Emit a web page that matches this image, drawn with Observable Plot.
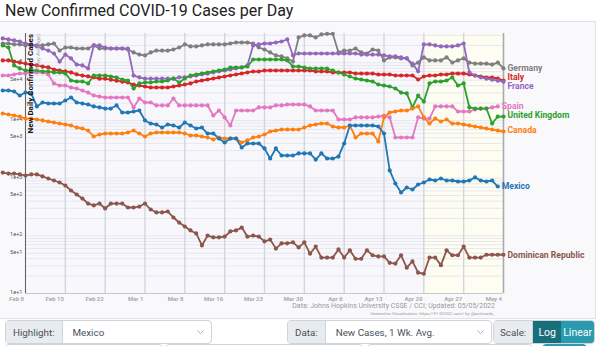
<!DOCTYPE html>
<html><head><meta charset="utf-8">
<script src="https://cdn.jsdelivr.net/npm/d3@7"></script>
<script src="https://cdn.jsdelivr.net/npm/@observablehq/plot@0.6"></script>
<style>
body{margin:0;width:600px;height:346px;overflow:hidden;background:#fff;font-family:Roboto,"Open Sans",sans-serif;position:relative}
#title{position:absolute;left:5px;top:1px;font-size:16px;color:#222;white-space:nowrap}
#panel{position:absolute;left:-1px;top:21px;width:597px;height:298px;background:#f9f9fc;border:1px solid #e0e0e6;box-sizing:border-box}
#chart{position:absolute;left:0;top:21px}
.src{position:absolute;right:105px;white-space:nowrap;color:#999;text-align:right}
.box{position:absolute;top:320px;height:24px;border:1px solid #ced4da;border-radius:4px;background:#fff;box-sizing:border-box;display:flex;align-items:center;font-size:9.8px;color:#495057;overflow:hidden}
.lab{background:#e9ecef;height:100%;display:flex;align-items:center;padding:0 7px;border-right:1px solid #ced4da;box-sizing:border-box}
.val{padding-left:10px;flex:1}
.chev{margin-right:7px}
.btn{height:100%;display:flex;align-items:center;justify-content:center;color:#fff;font-size:10.5px}
.row2{position:absolute;top:344px;height:14px;border:1px solid #ced4da;border-radius:4px;background:#fff;box-sizing:border-box}
</style></head>
<body>
<div id="title">New Confirmed COVID-19 Cases per Day</div>
<div id="panel"></div>
<div id="chart"></div>
<div class="src" style="top:302px;font-size:7px">Data: Johns Hopkins University CSSE / CCI; Updated: 05/05/2022</div>
<div class="src" style="top:311px;font-size:4.4px">Interactive Visualization: https://91-DIVOC.com/ by @profwade_</div>
<div class="box" style="left:5px;width:207px"><span class="lab">Highlight:</span><span class="val">Mexico</span><svg class="chev" width="7" height="5"><polyline points="0.5,0.5 3.5,3.5 6.5,0.5" fill="none" stroke="#999" stroke-width="0.8"/></svg></div>
<div class="box" style="left:287px;width:205px"><span class="lab">Data:</span><span class="val">New Cases, 1 Wk. Avg.</span><svg class="chev" width="7" height="5"><polyline points="0.5,0.5 3.5,3.5 6.5,0.5" fill="none" stroke="#999" stroke-width="0.8"/></svg></div>
<div class="box" style="left:493px;width:102px"><span class="lab" style="padding:0 6px">Scale:</span><span class="btn" style="background:#176f7c;width:28px">Log</span><span class="btn" style="background:#2a9aae;flex:1">Linear</span></div>
<div class="row2" style="left:5px;width:158px"></div>
<div class="row2" style="left:165px;width:198px"></div>
<div class="row2" style="left:367px;width:166px"></div>
<div class="row2" style="left:542px;width:45px;background:#2a9aae;border-color:#2a9aae"></div>
<script>
// ---- data (day index: 0 = Feb 8; series start 4 days before) ----
const countries = ["Germany","Italy","France","Spain","United Kingdom","Canada","Mexico","Dominican Republic"];
const colors = ["#7f7f7f","#d62728","#9467bd","#e377c2","#2ca02c","#ff7f0e","#1f77b4","#8c564b"];
const firstDay = -4;
const germany = [216000,216000,208000,208000,200000,200000,200000,200000,208000,216000,163000,184000,184000,177000,
 177000,177000,200000,177000,177000,177000,177000,177000,170000,151000,
 139000,134000,151000,163000,163000,163000,170000,184000,208000,192000,
 192000,200000,208000,208000,208000,208000,216000,225000,225000,225000,
 216000,184000,170000,151000,134000,129000,119000,105000,275000,298000,
 298000,275000,310000,318000,318000,151000,163000,163000,177000,151000,
 145000,170000,163000,110000,124000,124000,119000,119000,90000,101000,
 124000,110000,110000,110000,124000,101000,110000,119000,101000,97000,
 97000,97000,93000,101000,80000];
const italy = [110000,110000,105000,101000,97000,93000,90000,86000,83000,76500,73500,71000,68000,63000,
 60000,58000,56000,53000,53000,51000,49000,47000,45500,42000,
 40400,38800,37300,37300,37300,37300,38800,40400,42000,43800,
 47400,49300,51300,53400,55600,57900,60200,62700,65200,67900,
 70700,70700,73500,73500,73500,73500,73500,73500,73500,73500,
 73500,70700,70700,70700,67900,67900,67900,67900,65200,65200,
 65200,65200,62700,62700,62700,60200,60200,60200,60200,51300,
 57900,60200,60200,62700,62700,65200,65200,65200,62700,60200,
 57900,55600,55600,53400,49300];
const france = [264000,254000,244000,234000,216000,208000,192000,177000,163000,145000,105000,139000,119000,93000,
 90000,80000,200000,200000,184000,177000,177000,177000,177000,60000,
 56000,53000,53000,53000,53000,53000,53000,56000,56000,58000,
 60000,63000,65000,68000,71000,73500,76500,80000,83000,90000,
 200000,208000,216000,216000,225000,234000,254000,134000,145000,145000,
 145000,145000,145000,145000,145000,145000,145000,145000,145000,139000,
 139000,139000,139000,134000,129000,129000,124000,119000,97000,71000,
 208000,208000,200000,192000,192000,192000,200000,216000,68000,60000,
 56000,53000,51000,49000,47000];
const spain = [60200,60200,62700,65200,65200,67900,67900,67900,62700,43800,40400,40400,37300,35800,
 33100,30500,27100,26000,25000,25000,25000,25000,25000,16800,
 24000,20500,20500,18200,18200,18200,24000,18200,18200,18200,
 18200,18200,18200,12200,14900,11300,8180,14900,14900,14900,
 14900,16800,16800,16800,18200,18200,18900,18900,18900,18900,
 17500,14900,14900,14900,14900,10400,10400,10400,11300,11300,
 11300,11300,11700,12200,11300,5070,5070,5070,5070,11300,
 10800,10800,17500,17500,17500,17500,14300,14300,14300,15500,
 16100,16100,16800,17500];
const unitedKingdom = [200000,184000,90000,80000,73500,73500,73500,70700,70700,67900,67900,65200,49300,47400,
 47400,43800,60200,60200,60200,57900,55600,51300,49300,35800,
 43800,45500,45500,47400,47400,49300,53400,45500,53400,60200,
 62700,65200,67900,70700,73500,76500,82900,82900,82900,86300,
 114000,114000,114000,114000,114000,114000,110000,86300,86300,82900,
 79600,79600,79600,79600,73500,67900,62700,57900,53400,51300,
 49300,47400,42000,40400,38800,35800,30500,29400,16800,27100,
 21300,43800,47400,47400,49300,55600,40400,43800,16800,16100,
 16100,16100,8860,11700,11700];
const canada = [13200,12700,12200,11700,10800,10800,10400,10000,9600,9220,8860,8520,8180,7550,
 7260,6700,5270,5710,5940,5940,5940,5940,6190,6700,
 5940,5270,5940,6190,6190,6190,6190,6190,5940,5490,
 5490,5270,5070,4680,5070,4870,4870,4870,4150,4500,
 5070,5270,5710,6440,6700,6970,6970,6970,6970,7550,
 8180,8520,8860,8860,7860,7550,7550,8180,5070,5940,
 5940,5940,4320,11300,13750,14300,14900,14900,16100,17500,
 11300,8860,10800,9600,10400,8860,8860,8520,8180,7860,
 7550,7260,6970,6700,6440];
const mexico = [33100,33100,31800,27100,30500,29400,17500,20500,19700,19700,19700,22200,25000,20500,
 19700,18900,17500,16800,16100,16100,18200,13750,13750,14300,
 14900,10000,8860,8520,7550,8520,8180,7550,9220,8180,
 7260,7550,5940,5940,4870,4150,4870,4870,3400,3990,
 3990,3990,3270,2190,3270,2470,2470,2470,2680,2680,
 2680,2100,2680,2190,2190,2370,3990,8180,8180,8180,
 8180,8180,7860,5940,1360,807,564,688,636,776,
 840,947,910,986,910,910,875,875,910,1030,
 910,875,910,716];
const dominicanRepublic = [1250,1200,1200,1160,1110,1160,1160,1070,986,910,840,746,611,521,
 444,363,336,363,298,363,363,363,310,310,
 322,363,286,254,254,264,208,170,145,124,
 110,68,101,94,94,97,119,124,139,97,
 101,97,80,86,60,74,74,77,63,77,
 49,65,42,42,42,58,42,56,40,40,
 56,46,44,44,34,33,46,28,36,23,
 22,42,42,31,56,46,46,65,42,42,
 42,47,47,47,47];
const series = [germany, italy, france, spain, unitedKingdom, canada, mexico, dominicanRepublic];

const tickDays = [0,7,14,21,28,35,42,49,56,63,70,77,84];
const tickLabels = ["Feb 8","Feb 15","Feb 22","Mar 1","Mar 8","Mar 16","Mar 23","Mar 30","Apr 6","Apr 13","Apr 20","Apr 27","May 4"];
const yTicks = [10,50,100,500,1000,5000,10000,50000,100000];
const yTickLabels = ["1e+1","5e+1","1e+2","5e+2","1e+3","5e+3","1e+4","5e+4","1e+5"];
const recentFrom = "Apr 20", recentTo = "May 4";

// ---- styling ----
const yMax = 322000;
const labelNudge = {"Germany":0,"Italy":-3,"France":5,"Spain":0,"United Kingdom":-1,"Canada":-1,"Mexico":0,"Dominican Republic":0};

const rows = [];
series.forEach((vals, k) => vals.forEach((v, i) => rows.push({country: countries[k], day: firstDay + i, value: v})));
const last = series.map((vals, k) => ({country: countries[k], day: firstDay + vals.length - 1, value: vals[vals.length - 1]}));
const gridY = [];
[10,100,1000,10000,100000].forEach(d => [1,2,3,4,5,6,7,8,9].forEach(m => { if (m*d <= yMax) gridY.push(m*d); }));
const recent = [{x1: tickDays[tickLabels.indexOf(recentFrom)], x2: tickDays[tickLabels.indexOf(recentTo)]}];

const plot = Plot.plot({
  width: 600, height: 290,
  marginTop: 12, marginBottom: 18, marginLeft: 25, marginRight: 97,
  x: {type: "linear", domain: [tickDays[0], tickDays[tickDays.length-1]], axis: null},
  y: {type: "log", domain: [10, yMax], axis: null},
  color: {domain: countries, range: colors},
  style: {background: "transparent", fontFamily: "Roboto, sans-serif", overflow: "visible"},
  marks: [
    Plot.frame({fill: "#f8f8fc", stroke: null}),
    Plot.rect(recent, {x1: "x1", x2: "x2", fill: "#fdfdf2"}),
    Plot.ruleY(gridY, {stroke: "#e6e6ef", strokeWidth: 1}),
    Plot.ruleX(tickDays, {stroke: "#d4d4dc", strokeWidth: 1.4, y1: 10, y2: yMax}),
    Plot.ruleX(tickDays, {stroke: "#d4d4dc", strokeWidth: 1, y1: 10, insetBottom: -5}),
    Plot.ruleX([tickDays[tickDays.length-1]], {stroke: "#a8a8b0", strokeWidth: 1.4}),
    Plot.ruleY([10], {stroke: "#c8c8d0", strokeWidth: 1}),
    Plot.ruleX([tickDays[0]], {stroke: "#666", strokeWidth: 1}),
    Plot.text(tickDays, {x: d => d, text: (d, i) => tickLabels[i], frameAnchor: "bottom", dy: 7, dx: -1.5, textAnchor: "end", fontSize: 6, fontWeight: "bold", fill: "#aaa"}),
    Plot.text(yTicks, {y: d => d, text: (d, i) => yTickLabels[i], frameAnchor: "left", dx: -3, dy: -1.2, textAnchor: "end", fontSize: 5.6, fill: "#555"}),
    Plot.line(rows, {x: "day", y: "value", z: "country", stroke: "country", strokeWidth: 1.8}),
    Plot.dot(rows, {x: "day", y: "value", fill: "country", r: 2.1}),
    ...countries.map(c => Plot.text(last.filter(d => d.country === c), {x: "day", y: "value", text: "country", fill: "country", dx: 4, dy: labelNudge[c], textAnchor: "start", fontSize: 8.6, fontWeight: "bold"}))
  ]
});
document.getElementById("chart").appendChild(plot);

// y-axis title
const svg = d3.select(plot);
svg.append("text").attr("transform", "translate(31,13) rotate(-90)").attr("text-anchor", "end").attr("dominant-baseline", "middle")
  .attr("font-size", 8).attr("font-weight", "bold").attr("fill", "#111").text("New Daily Confirmed Cases");
svg.append("text").attr("transform", "translate(38.5,13) rotate(-90)").attr("text-anchor", "end").attr("dominant-baseline", "middle")
  .attr("font-size", 5.6).attr("fill", "#aaa").text("(7-Day Average)");
</script>
</body></html>
